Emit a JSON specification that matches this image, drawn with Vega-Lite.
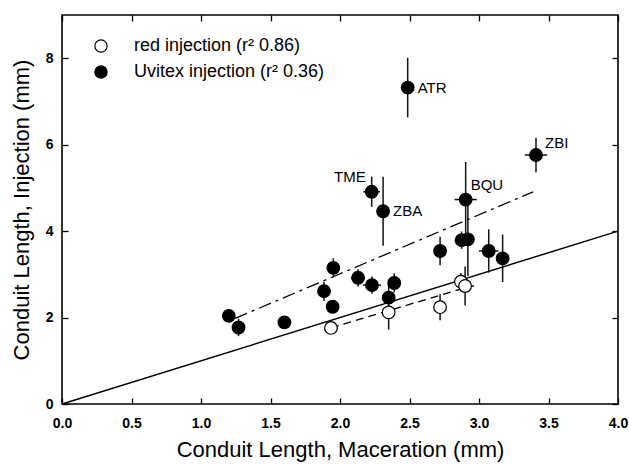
{
  "$schema": "https://vega.github.io/schema/vega-lite/v6.json",
  "width": 556,
  "height": 389,
  "autosize": "none",
  "padding": {"left": 62, "top": 15, "right": 11, "bottom": 61},
  "background": "white",
  "config": {
    "font": "Liberation Sans",
    "view": {"stroke": "black", "strokeWidth": 1.6},
    "axis": {
      "domain": false,
      "grid": false,
      "ticks": true,
      "tickColor": "black",
      "tickWidth": 1.3,
      "tickSize": -6,
      "labelColor": "black",
      "labelFontSize": 14,
      "labelFontWeight": "bold",
      "labelFont": "Liberation Sans",
      "titleColor": "black",
      "titleFont": "Liberation Sans",
      "titleFontSize": 22,
      "titleFontWeight": "normal"
    }
  },
  "datasets": {
    "points": [
      {"series": "uvitex", "x": 1.20, "y": 2.04, "ylo": 1.96, "yhi": 2.12, "xlo": 1.17, "xhi": 1.23, "label": ""},
      {"series": "uvitex", "x": 1.27, "y": 1.77, "ylo": 1.57, "yhi": 1.97, "xlo": 1.24, "xhi": 1.30, "label": ""},
      {"series": "uvitex", "x": 1.60, "y": 1.89, "ylo": 1.84, "yhi": 1.94, "xlo": 1.57, "xhi": 1.63, "label": ""},
      {"series": "uvitex", "x": 1.885, "y": 2.61, "ylo": 2.39, "yhi": 2.83, "xlo": 1.855, "xhi": 1.915, "label": ""},
      {"series": "uvitex", "x": 1.947, "y": 2.25, "ylo": 2.15, "yhi": 2.35, "xlo": 1.917, "xhi": 1.977, "label": ""},
      {"series": "uvitex", "x": 1.952, "y": 3.15, "ylo": 2.93, "yhi": 3.37, "xlo": 1.922, "xhi": 1.982, "label": ""},
      {"series": "uvitex", "x": 2.13, "y": 2.92, "ylo": 2.72, "yhi": 3.12, "xlo": 2.08, "xhi": 2.18, "label": ""},
      {"series": "uvitex", "x": 2.23, "y": 2.75, "ylo": 2.55, "yhi": 2.95, "xlo": 2.165, "xhi": 2.295, "label": ""},
      {"series": "uvitex", "x": 2.39, "y": 2.80, "ylo": 2.58, "yhi": 3.02, "xlo": 2.36, "xhi": 2.42, "label": ""},
      {"series": "uvitex", "x": 2.35, "y": 2.46, "ylo": 2.16, "yhi": 2.76, "xlo": 2.32, "xhi": 2.38, "label": ""},
      {"series": "uvitex", "x": 2.72, "y": 3.54, "ylo": 3.21, "yhi": 3.87, "xlo": 2.69, "xhi": 2.75, "label": ""},
      {"series": "uvitex", "x": 2.875, "y": 3.79, "ylo": 3.59, "yhi": 3.99, "xlo": 2.825, "xhi": 2.925, "label": ""},
      {"series": "uvitex", "x": 2.92, "y": 3.81, "ylo": 2.96, "yhi": 4.66, "xlo": 2.88, "xhi": 2.96, "label": ""},
      {"series": "uvitex", "x": 3.07, "y": 3.54, "ylo": 3.04, "yhi": 4.04, "xlo": 3.00, "xhi": 3.14, "label": ""},
      {"series": "uvitex", "x": 3.17, "y": 3.37, "ylo": 2.82, "yhi": 3.92, "xlo": 3.14, "xhi": 3.20, "label": ""},
      {"series": "uvitex", "x": 2.228, "y": 4.91, "ylo": 4.56, "yhi": 5.26, "xlo": 2.168, "xhi": 2.288, "label": "TME"},
      {"series": "uvitex", "x": 2.31, "y": 4.46, "ylo": 3.66, "yhi": 5.26, "xlo": 2.28, "xhi": 2.34, "label": "ZBA"},
      {"series": "uvitex", "x": 2.487, "y": 7.32, "ylo": 6.63, "yhi": 8.01, "xlo": 2.457, "xhi": 2.517, "label": "ATR"},
      {"series": "uvitex", "x": 3.41, "y": 5.76, "ylo": 5.36, "yhi": 6.16, "xlo": 3.33, "xhi": 3.49, "label": "ZBI"},
      {"series": "uvitex", "x": 2.904, "y": 4.73, "ylo": 3.86, "yhi": 5.60, "xlo": 2.824, "xhi": 2.984, "label": "BQU"},
      {"series": "red", "x": 1.935, "y": 1.76, "ylo": 1.71, "yhi": 1.81, "xlo": 1.885, "xhi": 1.985, "label": ""},
      {"series": "red", "x": 2.35, "y": 2.12, "ylo": 1.72, "yhi": 2.52, "xlo": 2.32, "xhi": 2.38, "label": ""},
      {"series": "red", "x": 2.72, "y": 2.24, "ylo": 1.94, "yhi": 2.54, "xlo": 2.67, "xhi": 2.77, "label": ""},
      {"series": "red", "x": 2.87, "y": 2.83, "ylo": 2.63, "yhi": 3.03, "xlo": 2.82, "xhi": 2.92, "label": ""},
      {"series": "red", "x": 2.90, "y": 2.73, "ylo": 2.28, "yhi": 3.18, "xlo": 2.835, "xhi": 2.965, "label": ""}
    ],
    "lines": [
      {"line": "identity", "x": 0, "y": 0},
      {"line": "identity", "x": 4, "y": 4},
      {"line": "uvitexfit", "x": 1.245, "y": 1.98},
      {"line": "uvitexfit", "x": 3.39, "y": 4.91},
      {"line": "redfit", "x": 1.935, "y": 1.76},
      {"line": "redfit", "x": 2.90, "y": 2.69}
    ]
  },
  "resolve": {"axis": {"x": "independent", "y": "independent"}},
  "layer": [
    {
      "data": {"name": "lines"},
      "transform": [{"filter": "datum.line == 'identity'"}],
      "mark": {"type": "line", "color": "black", "strokeWidth": 1.5},
      "encoding": {
        "x": {"field": "x", "type": "quantitative", "scale": {"domain": [0, 4], "nice": false},
          "axis": {"orient": "bottom", "values": [0, 0.5, 1, 1.5, 2, 2.5, 3, 3.5, 4], "format": ".1f", "labelPadding": 18, "title": "Conduit Length, Maceration (mm)", "titlePadding": 9, "labelFlush": false}},
        "y": {"field": "y", "type": "quantitative", "scale": {"domain": [0, 9], "nice": false},
          "axis": {"orient": "left", "values": [0, 2, 4, 6, 8], "labelPadding": 15, "title": "Conduit Length, Injection (mm)", "titlePadding": 12}}
      }
    },
    {
      "data": {"name": "lines"},
      "transform": [{"filter": "datum.line == 'uvitexfit'"}],
      "mark": {"type": "line", "color": "black", "strokeWidth": 1.3, "strokeDash": [13, 5, 3, 5]},
      "encoding": {
        "x": {"field": "x", "type": "quantitative", "scale": {"domain": [0, 4], "nice": false},
          "axis": {"orient": "top", "values": [0, 0.5, 1, 1.5, 2, 2.5, 3, 3.5, 4], "labels": false, "title": null}},
        "y": {"field": "y", "type": "quantitative", "scale": {"domain": [0, 9], "nice": false},
          "axis": {"orient": "right", "values": [0, 2, 4, 6, 8], "labels": false, "title": null}}
      }
    },
    {
      "data": {"name": "lines"},
      "transform": [{"filter": "datum.line == 'redfit'"}],
      "mark": {"type": "line", "color": "black", "strokeWidth": 1.3, "strokeDash": [8, 5]},
      "encoding": {
        "x": {"field": "x", "type": "quantitative", "scale": {"domain": [0, 4], "nice": false}, "axis": null},
        "y": {"field": "y", "type": "quantitative", "scale": {"domain": [0, 9], "nice": false}, "axis": null}
      }
    },
    {
      "data": {"name": "points"},
      "mark": {"type": "rule", "color": "#111", "strokeWidth": 1.5},
      "encoding": {
        "x": {"field": "x", "type": "quantitative", "scale": {"domain": [0, 4], "nice": false}, "axis": null},
        "y": {"field": "ylo", "type": "quantitative", "scale": {"domain": [0, 9], "nice": false}, "axis": null},
        "y2": {"field": "yhi"}
      }
    },
    {
      "data": {"name": "points"},
      "mark": {"type": "rule", "color": "#111", "strokeWidth": 1.5},
      "encoding": {
        "x": {"field": "xlo", "type": "quantitative", "scale": {"domain": [0, 4], "nice": false}, "axis": null},
        "x2": {"field": "xhi"},
        "y": {"field": "y", "type": "quantitative", "scale": {"domain": [0, 9], "nice": false}, "axis": null}
      }
    },
    {
      "data": {"name": "points"},
      "mark": {"type": "point", "shape": "circle", "filled": true, "stroke": "black", "strokeWidth": 1.2, "size": 160, "opacity": 1},
      "encoding": {
        "x": {"field": "x", "type": "quantitative", "scale": {"domain": [0, 4], "nice": false}, "axis": null},
        "y": {"field": "y", "type": "quantitative", "scale": {"domain": [0, 9], "nice": false}, "axis": null},
        "fill": {"field": "series", "type": "nominal",
          "scale": {"domain": ["red", "uvitex"], "range": ["white", "black"]},
          "legend": {"orient": "none", "legendX": 30, "legendY": 22, "title": null, "padding": 0,
            "labelExpr": "datum.label == 'red' ? '\u00a0red injection (r² 0.86)' : 'Uvitex injection (r² 0.36)'",
            "labelFontSize": 18, "labelColor": "black", "labelFont": "Liberation Sans", "labelOffset": 24, "labelLimit": 0,
            "symbolSize": 150, "symbolStrokeColor": "black", "symbolStrokeWidth": 1.2, "symbolType": "circle", "rowPadding": 8}}
      }
    },
    {
      "data": {"name": "points"},
      "transform": [{"filter": "datum.label == 'ZBA' || datum.label == 'ATR'"}],
      "mark": {"type": "text", "align": "left", "baseline": "middle", "dx": 10, "fontSize": 15, "color": "black"},
      "encoding": {
        "x": {"field": "x", "type": "quantitative", "scale": {"domain": [0, 4], "nice": false}, "axis": null},
        "y": {"field": "y", "type": "quantitative", "scale": {"domain": [0, 9], "nice": false}, "axis": null},
        "text": {"field": "label"}
      }
    },
    {
      "data": {"name": "points"},
      "transform": [{"filter": "datum.label == 'ZBI'"}],
      "mark": {"type": "text", "align": "left", "baseline": "middle", "dx": 9, "dy": -12, "fontSize": 15, "color": "black"},
      "encoding": {
        "x": {"field": "x", "type": "quantitative", "scale": {"domain": [0, 4], "nice": false}, "axis": null},
        "y": {"field": "y", "type": "quantitative", "scale": {"domain": [0, 9], "nice": false}, "axis": null},
        "text": {"field": "label"}
      }
    },
    {
      "data": {"name": "points"},
      "transform": [{"filter": "datum.label == 'BQU'"}],
      "mark": {"type": "text", "align": "left", "baseline": "middle", "dx": 5, "dy": -15, "fontSize": 15, "color": "black"},
      "encoding": {
        "x": {"field": "x", "type": "quantitative", "scale": {"domain": [0, 4], "nice": false}, "axis": null},
        "y": {"field": "y", "type": "quantitative", "scale": {"domain": [0, 9], "nice": false}, "axis": null},
        "text": {"field": "label"}
      }
    },
    {
      "data": {"name": "points"},
      "transform": [{"filter": "datum.label == 'TME'"}],
      "mark": {"type": "text", "align": "right", "baseline": "middle", "dx": -6, "dy": -15, "fontSize": 15, "color": "black"},
      "encoding": {
        "x": {"field": "x", "type": "quantitative", "scale": {"domain": [0, 4], "nice": false}, "axis": null},
        "y": {"field": "y", "type": "quantitative", "scale": {"domain": [0, 9], "nice": false}, "axis": null},
        "text": {"field": "label"}
      }
    }
  ]
}
